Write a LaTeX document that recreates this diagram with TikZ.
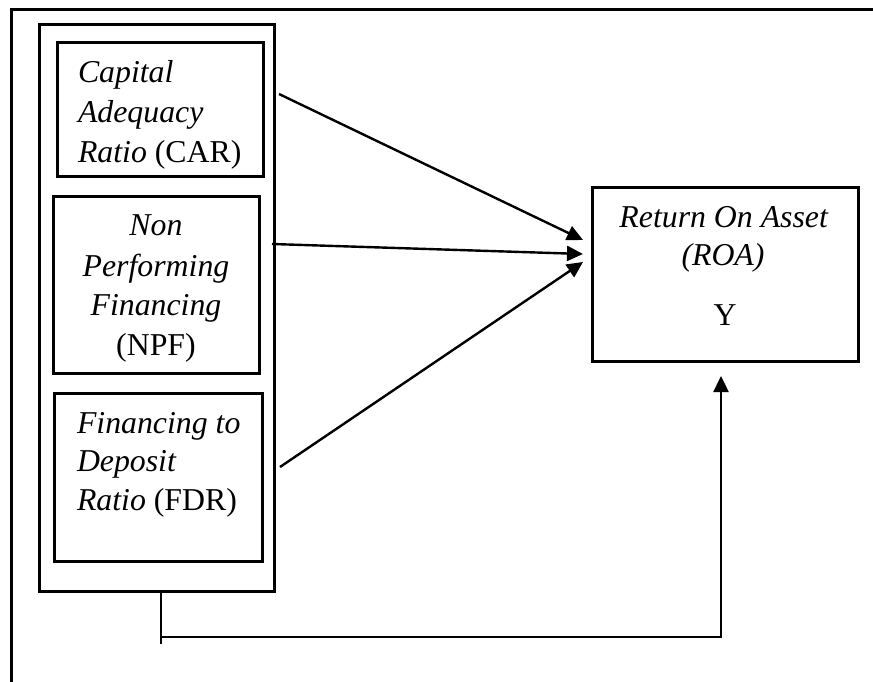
\documentclass[tikz,border=0pt]{standalone}
\usepackage{fontspec}
\setmainfont{Liberation Serif}
\usetikzlibrary{arrows.meta,calc}
\begin{document}
\begin{tikzpicture}[x=1pt,y=-1pt,
  box/.style={draw,line width=3pt,inner sep=0pt,outer sep=0pt},
  txt/.style={inner sep=0pt,outer sep=0pt,font=\fontsize{31.8}{40}\selectfont},
  arr/.style={line width=2.4pt,-{Triangle[length=16pt,width=15pt]}},
  thin/.style={line width=1.6pt}]
\useasboundingbox (0,0) rectangle (873,682);
% outer frame (open at right and bottom)
\draw[line width=3pt] (11,682) -- (11,10) -- (873,10);
% boxes
\node[box,minimum width=235pt,minimum height=566pt] (grp) at (156.5,308) {};
\node[box,minimum width=206pt,minimum height=134pt] (car) at (160,110) {};
\node[box,minimum width=206pt,minimum height=177pt] (npf) at (156,284.5) {};
\node[box,minimum width=208pt,minimum height=168pt] (fdr) at (158,477) {};
\node[box,minimum width=266pt,minimum height=174pt] (roa) at (725,274) {};
% texts
\node[txt,anchor=base west] (t1) at (78,83) {\textit{Capital}};
\node[txt,anchor=base west] (t2) at (78,123) {\textit{Adequacy}};
\node[txt,anchor=base west] (t3) at (78,163) {\textit{Ratio} (CAR)};
\node[txt,anchor=base] (n1) at (156,235) {\textit{Non}};
\node[txt,anchor=base] (n2) at (156,276) {\textit{Performing}};
\node[txt,anchor=base] (n3) at (156,315) {\textit{Financing}};
\node[txt,anchor=base] (n4) at (156,355) {(NPF)};
\node[txt,anchor=base west] (f1) at (77,433) {\textit{Financing to}};
\node[txt,anchor=base west] (f2) at (77,471) {\textit{Deposit}};
\node[txt,anchor=base west] (f3) at (77,510) {\textit{Ratio} (FDR)};
\node[txt,anchor=base] (r1) at (724,227) {\textit{Return On Asset}};
\node[txt,anchor=base] (r2) at (723,265) {\textit{(ROA)}};
\node[txt,anchor=base] (r3) at (725,325) {Y};
% arrows
\draw[arr] ($(grp.north east)+(5,69)$) -- ($(roa.north west)+(-9,53)$);
\draw[arr] ($(grp.north east)+(-2,219)$) -- ($(roa.north west)+(-9,67)$);
\draw[arr] ($(grp.north east)+(6,442)$) -- ($(roa.north west)+(-9,75)$);
% feedback line
\coordinate (s0) at ($(grp.south)+(4.5,0)$);
\coordinate (s1) at ($(s0)+(0,53)$);
\coordinate (h0) at ($(s0)+(0,46)$);
\coordinate (h1) at ($(roa.south)+(-4,276)$);
\draw[thin] (s0) -- (s1);
\draw[thin] (h0) -- ($(h1)+(1,0)$);
\draw[arr] (h1) -- ($(roa.south)+(-4,15)$);
\end{tikzpicture}
\end{document}
